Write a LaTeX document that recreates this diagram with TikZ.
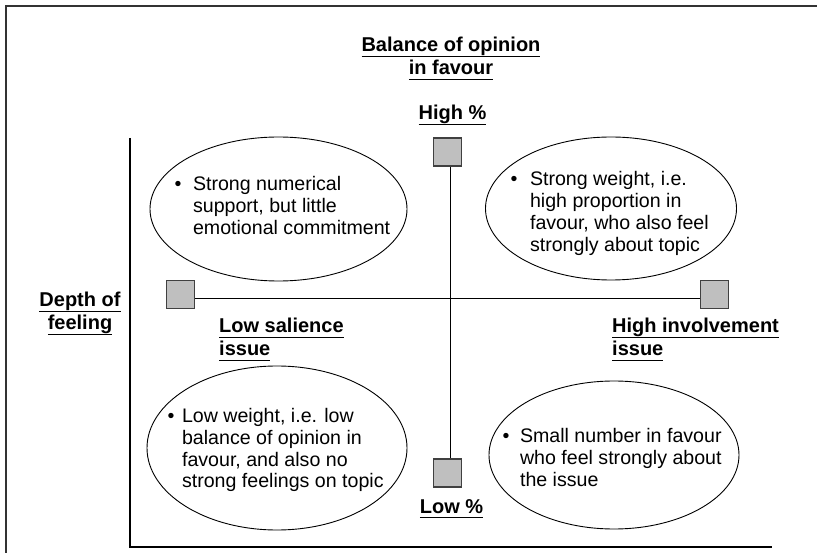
\documentclass[tikz,border=0pt]{standalone}
\usepackage{fontspec}
\setmainfont{Liberation Sans}
\usetikzlibrary{shapes.geometric}
\newcommand{\undl}[1]{\setbox0\hbox{#1}\rlap{\rule[-5pt]{\wd0}{1.4pt}}\box0}
\newcommand{\pointtext}[2]{\begin{tabular}[t]{@{}l@{\hspace{#1}}l@{}}\textbullet & #2\end{tabular}}
\begin{document}
\begin{tikzpicture}[x=1pt,y=-1pt,
  marker/.style={draw=black!75,line width=1.4pt,fill=black!25,minimum size=28pt,inner sep=0pt},
  bubble/.style={draw,ellipse,line width=0.9pt,inner sep=0pt},
  note/.style={anchor=base west,inner sep=0pt,font=\fontsize{19.6}{22}\selectfont},
  head/.style={anchor=base,inner sep=0pt,font=\bfseries\fontsize{20}{23}\selectfont}]
\useasboundingbox (0,0) rectangle (817,553);
\draw[line width=1.5pt,black!80] (6,553) -- (6,6) -- (817,6);
\coordinate (ytop) at (130,138);
\coordinate (orig) at (130,547);
\coordinate (xend) at (772,547);
\draw[line width=1.2pt] (ytop) -- (orig) -- (xend);
\node[marker] (high) at (447.5,152) {};
\node[marker] (low) at (447.5,473) {};
\node[marker] (left) at (180.3,294.7) {};
\node[marker] (right) at (714.7,294.7) {};
\draw[line width=1.2pt] ([xshift=3.3pt]high.south) -- ([xshift=3.3pt]low.north);
\draw[line width=1.2pt] ([yshift=-3.5pt]left.east) -- ([yshift=-3.5pt]right.west);
\node[head] (balance) at (451,52) {\begin{tabular}[t]{@{}c@{}}\undl{Balance of opinion}\\\undl{in favour}\end{tabular}};
\node[head] (highpc) at (452.5,120) {\undl{High \%}};
\node[head] (lowpc) at (451.5,513) {\undl{Low \%}};
\node[head] (depth) at (80,307) {\begin{tabular}[t]{@{}c@{}}\undl{Depth of}\\\undl{feeling}\end{tabular}};
\node[head,anchor=base west] (lowsal) at (219,333) {\begin{tabular}[t]{@{}l@{}}\undl{Low salience}\\\undl{issue}\end{tabular}};
\node[head,anchor=base west] (highinv) at (612,333) {\begin{tabular}[t]{@{}l@{}}\undl{High involvement}\\\undl{issue}\end{tabular}};
\node[bubble,minimum width=257pt,minimum height=144pt] (tl) at (278.5,209) {};
\node[bubble,minimum width=251pt,minimum height=143pt] (tr) at (611,208.5) {};
\node[bubble,minimum width=260pt,minimum height=164pt] (bl) at (277,448) {};
\node[bubble,minimum width=250pt,minimum height=148pt] (br) at (614,455) {};
\node[note] (tltext) at (174.5,191) {\pointtext{11.5pt}{Strong numerical\\ & support, but little\\ & emotional commitment}};
\node[note] (trtext) at (510.5,186) {\pointtext{12.5pt}{Strong weight, i.e.\\ & high proportion in\\ & favour, who also feel\\ & strongly about topic}};
\node[note] (bltext) at (167.5,422) {\pointtext{7.5pt}{Low weight, i.e. low\\ & balance of opinion in\\ & favour, and also no\\ & strong feelings on topic}};
\node[note] (brtext) at (502.5,442) {\pointtext{10.5pt}{Small number in favour\\ & who feel strongly about\\ & the issue}};
\end{tikzpicture}
\end{document}
